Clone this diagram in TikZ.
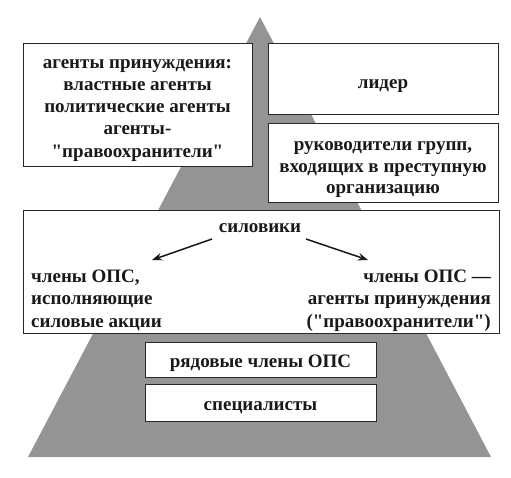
\documentclass[tikz,border=0pt]{standalone}
\usepackage{fontspec}
\setmainfont{Liberation Serif}[Ligatures=TeXOff]
\usetikzlibrary{arrows.meta}
\definecolor{pyr}{RGB}{148,148,148}
\definecolor{edge}{RGB}{40,40,40}
\definecolor{ink}{RGB}{25,25,25}
\begin{document}
\begin{tikzpicture}[x=1pt,y=-1pt,
  box/.style={draw=edge,line width=1.4pt,fill=white,inner sep=0pt,anchor=north west},
  txt/.style={font=\bfseries\fontsize{19}{22}\selectfont,text=ink,inner sep=0pt,anchor=base},
  txtl/.style={txt,anchor=base west},
  txtr/.style={txt,anchor=base east},
  arr/.style={draw=ink,line width=1.5pt,-{Stealth[length=10pt,width=7.5pt]}}]
\useasboundingbox (0,0) rectangle (511,477);
% pyramid
\fill[pyr] (260,17) coordinate (apex) -- (491,457) coordinate (br) -- (28,457) coordinate (bl) -- cycle;
% boxes
\node[box,minimum width=229pt,minimum height=123pt] (agents) at (23,43) {};
\node[box,minimum width=230pt,minimum height=71pt] (leader) at (268,43) {};
\node[box,minimum width=230pt,minimum height=79pt] (heads) at (268,123) {};
\node[box,minimum width=476pt,minimum height=123pt] (force) at (23,210) {};
\node[box,minimum width=231pt,minimum height=35pt] (rank) at (145,342) {};
\node[box,minimum width=231pt,minimum height=37pt] (spec) at (145,384) {};
% texts
\node[txt] (ag1) at (137.5,68) {агенты принуждения:};
\node[txt] (ag2) at (137.5,90.2) {властные агенты};
\node[txt] (ag3) at (137.5,112.5) {политические агенты};
\node[txt] (ag4) at (137.5,134.7) {агенты-};
\node[txt] (ag5) at (137.5,157) {"правоохранители"};
\node[txt] (leaderT) at (383,88) {лидер};
\node[txt] (he1) at (383,150) {руководители групп,};
\node[txt] (he2) at (383,172) {входящих в преступную};
\node[txt] (he3) at (383,193.5) {организацию};
\node[txt] (silo) at (260,232) {силовики};
\node[txtl] (lt1) at (31,282) {члены ОПС,};
\node[txtl] (lt2) at (31,304.5) {исполняющие};
\node[txtl] (lt3) at (31,327) {силовые акции};
\node[txtr] (rt1) at (491,282) {члены ОПС —};
\node[txtr] (rt2) at (491,304.5) {агенты принуждения};
\node[txtr] (rt3) at (491,327) {("правоохранители")};
\node[txt] (rankT) at (260.5,367) {рядовые члены ОПС};
\node[txt] (specT) at (260.5,410) {специалисты};
% arrows
\coordinate (l1) at (212,239);
\coordinate (l2) at (152,260);
\coordinate (r1) at (306,239);
\coordinate (r2) at (368,260);
\draw[arr] (l1) -- (l2);
\draw[arr] (r1) -- (r2);
\end{tikzpicture}
\end{document}
